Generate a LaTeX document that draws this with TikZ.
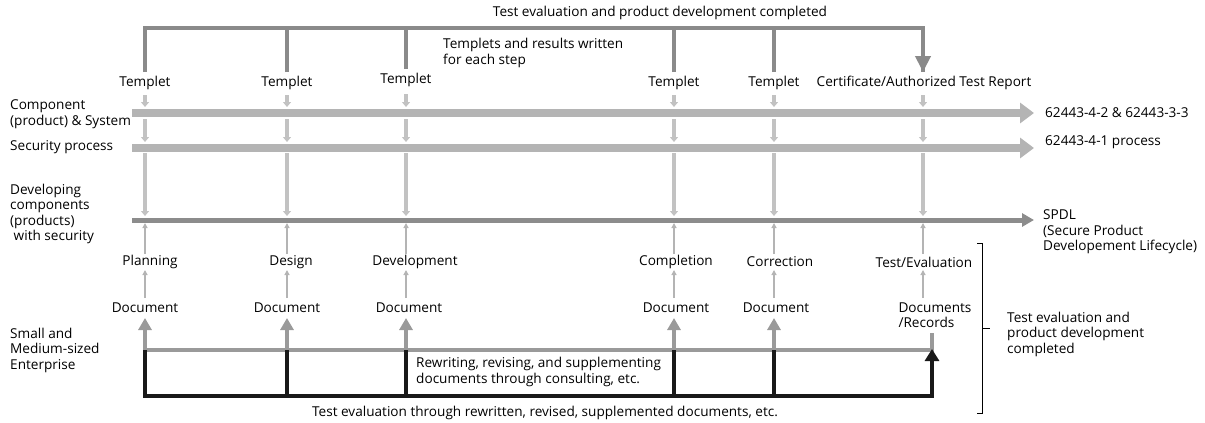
\documentclass[tikz,border=0pt]{standalone}
\usepackage{fontspec}
\setmainfont{Open Sans}
\usetikzlibrary{arrows.meta}
\definecolor{barlight}{HTML}{B4B4B4}
\definecolor{arrlight}{HTML}{C2C2C2}
\definecolor{bardark}{HTML}{8C8C8C}
\definecolor{topgray}{HTML}{8A8A8A}
\definecolor{docgray}{HTML}{9A9A9A}
\begin{document}
\begin{tikzpicture}[x=1pt,y=-1pt,font=\fontsize{13.6}{15.5}\selectfont]
    \tikzstyle{lbl}=[inner sep=0,align=left]
    \tikzstyle{side}=[inner sep=0,align=left,anchor=west]
    \tikzstyle{bar}=[line width=8,barlight,-{Triangle[length=14,width=20]}]
    \tikzstyle{spdl}=[line width=5,bardark,-{Triangle[length=12,width=13]}]
    \tikzstyle{down}=[line width=3.5,arrlight,-{Triangle[length=5,width=8]}]
    \tikzstyle{up}=[line width=1.2,barlight,-{Triangle[length=5,width=5]}]
    \tikzstyle{docup}=[line width=4,docgray,-{Triangle[length=12,width=13]}]
    \tikzstyle{topline}=[line width=4,topgray]
    \tikzstyle{blackline}=[line width=4,black!90]
    \useasboundingbox (0,0) rectangle (1205,423);

    % templet row
    \node(t1)[lbl] at (145,83){Templet};
    \node(t2)[lbl] at (287,83){Templet};
    \node(t3)[lbl] at (406,80){Templet};
    \node(t4)[lbl] at (674,83){Templet};
    \node(t5)[lbl] at (774,83){Templet};
    \node(cert)[lbl] at (924,83){Certificate/Authorized Test Report};
    \node(topnote)[lbl] at (660,13){Test evaluation and product development completed};
    \node(stepnote)[lbl,anchor=north west] at (443,38){Templets and results written\\for each step};

    % top bracket
    \coordinate(c1) at (145,72);
    \coordinate(c2) at (287,72);
    \coordinate(c3) at (406,69);
    \coordinate(c4) at (674,72);
    \coordinate(c5) at (774,72);
    \coordinate(c6) at (923,72);
    \draw[topline](c1)--(145,28)-|(c6);
    \draw[topline](c2)--(c2|-0,28);
    \draw[topline](c3)--(c3|-0,28);
    \draw[topline](c4)--(c4|-0,28);
    \draw[topline](c5)--(c5|-0,28);
    \draw[topline,-{Triangle[length=16,width=15]}](923,40)--(c6);

    % horizontal bars
    \coordinate(b1s) at (132,113);
    \coordinate(b1e) at (1034,113);
    \coordinate(b2s) at (132,148);
    \coordinate(b2e) at (1034,148);
    \coordinate(b3s) at (132,220);
    \coordinate(b3e) at (1034,220);
    \draw[bar](b1s)--(b1e);
    \draw[bar](b2s)--(b2e);
    \draw[spdl](b3s)--(b3e);

    % left labels
    \node(comp)[side] at (10,114){Component\\(product) \& System};
    \node(secp)[side] at (10,147){Security process};
    \node(devc)[side] at (10,214){Developing\\components\\(products)\\\ with security};
    \node(sme)[side] at (10,350){Small and\\Medium-sized\\Enterprise};

    % right labels
    \node(std1)[side] at (1045,113){62443-4-2 \& 62443-3-3};
    \node(std2)[side] at (1045,142){62443-4-1 process};
    \node(spdlt)[side] at (1043,232){SPDL\\(Secure Product\\Developement Lifecycle)};

    % arrows between bars
    \draw[down](145,95)--(145,107);
    \draw[down](287,95)--(287,107);
    \draw[down](406,94)--(406,107);
    \draw[down](674,95)--(674,107);
    \draw[down](774,95)--(774,107);
    \draw[down](923,95)--(923,107);
    \draw[down](145,119)--(145,142);
    \draw[down](287,119)--(287,142);
    \draw[down](406,119)--(406,142);
    \draw[down](674,119)--(674,142);
    \draw[down](774,119)--(774,142);
    \draw[down](923,119)--(923,142);
    \draw[down](145,153)--(145,216);
    \draw[down](287,153)--(287,216);
    \draw[down](406,153)--(406,216);
    \draw[down](674,153)--(674,216);
    \draw[down](774,153)--(774,216);
    \draw[down](923,153)--(923,216);

    % stages
    \node(s1)[lbl] at (150,262){Planning};
    \node(s2)[lbl] at (291,262){Design};
    \node(s3)[lbl] at (415,262){Development};
    \node(s4)[lbl] at (676,262){Completion};
    \node(s5)[lbl] at (780,262){Correction};
    \node(s6)[lbl] at (924,262){Test/Evaluation};
    \node(d1)[lbl] at (145,308){Document};
    \node(d2)[lbl] at (287,308){Document};
    \node(d3)[lbl] at (409,308){Document};
    \node(d4)[lbl] at (676,308){Document};
    \node(d5)[lbl] at (776,308){Document};
    \node(d6)[lbl] at (935,315){Documents\\/Records};

    \draw[up](145,254)--(145,223);
    \draw[up](287,254)--(287,223);
    \draw[up](406,254)--(406,223);
    \draw[up](674,254)--(674,223);
    \draw[up](774,254)--(774,223);
    \draw[up](923,254)--(923,223);
    \draw[up](145,298)--(145,270);
    \draw[up](287,298)--(287,270);
    \draw[up](406,298)--(406,270);
    \draw[up](674,298)--(674,270);
    \draw[up](774,298)--(774,270);
    \draw[up](923,298)--(923,270);

    % enterprise loop
    \coordinate(g1) at (145,350);
    \coordinate(g6) at (932,350);
    \draw[topline,docgray](g1)--(g6)--(932,333);
    \draw[docup](g1)--(145,318);
    \draw[docup](287,350)--(287,318);
    \draw[docup](406,350)--(406,318);
    \draw[docup](674,350)--(674,318);
    \draw[docup](774,350)--(774,318);
    \draw[blackline](g1)--(145,396)-|(932,360);
    \draw[blackline,-{Triangle[length=12,width=14]}](932,380)--(932,349);
    \draw[blackline](287,350)--(287,396);
    \draw[blackline](406,350)--(406,396);
    \draw[blackline](674,350)--(674,396);
    \draw[blackline](774,350)--(774,396);
    \node(rew)[lbl,anchor=north west] at (416,357){Rewriting, revising, and supplementing\\documents through consulting, etc.};
    \node(bot)[lbl] at (545,413){Test evaluation through rewritten, revised, supplemented documents, etc.};

    % bracket
    \draw[line width=0.8](977,243)--(982,243)--(982,413)--(977,413);
    \draw[line width=0.8](982,328)--(990,328);
    \node(brk)[side] at (1007,334){Test evaluation and\\product development\\completed};
\end{tikzpicture}
\end{document}
